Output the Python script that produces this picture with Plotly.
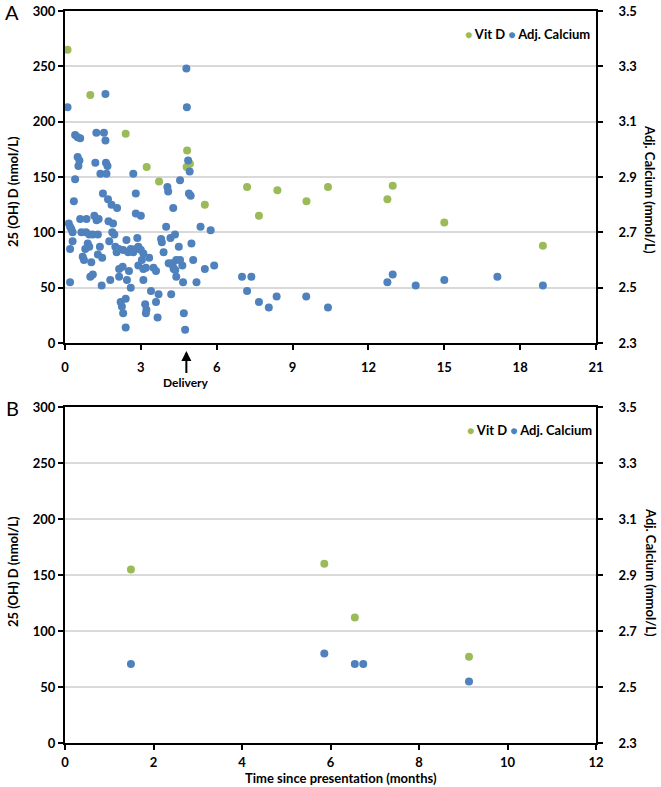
import plotly.graph_objects as go

# ---------------- Panel A data ----------------
a_vitd_month = [0.1, 1.0, 2.4, 3.23, 3.72, 4.83, 4.81, 4.94, 5.53, 7.2, 7.67, 8.4, 9.55,
                10.4, 12.75, 12.96, 15.0, 18.9]
a_vitd_value = [265, 224, 189, 159, 146, 174, 159, 162, 125, 141, 115, 138, 128,
                141, 130, 142, 109, 88]

a_ca_month = [0.1, 0.15, 0.2, 0.25, 0.3, 0.2, 0.2, 0.3, 0.35, 0.4, 0.4, 0.5, 0.6, 0.5, 0.57,
              0.53, 0.6, 0.85, 0.65, 0.7, 0.75, 0.83, 0.96, 1.1, 1.3, 0.9, 0.96, 0.8, 1.04,
              1.0, 1.1, 1.24, 1.2, 1.4, 1.64, 1.6, 1.54, 1.6, 1.62, 1.68, 1.5, 1.7, 1.84,
              2.06, 1.16, 1.25, 1.33, 1.72, 1.9, 1.87, 1.95, 1.75, 1.38, 1.3, 1.47, 1.45,
              1.79, 1.99, 2.04, 2.13, 2.3, 2.5, 2.6, 2.7, 2.8, 2.9, 3.0, 3.1, 2.43, 2.14,
              2.28, 2.14, 2.2, 2.25, 2.3, 2.4, 2.4, 2.45, 2.53, 2.6, 2.7, 2.8, 2.8, 3.0,
              2.86, 2.9, 3.1, 3.2, 3.04, 3.1, 3.17, 3.22, 3.2, 3.33, 3.4, 3.5, 3.6, 3.6,
              3.66, 3.7, 3.8, 3.83, 3.9, 4.0, 4.05, 4.08, 4.1, 4.2, 4.17, 4.35, 4.28, 4.26,
              4.3, 4.4, 4.4, 4.5, 4.55, 4.55, 4.64, 4.67, 4.7, 4.75, 4.8, 4.82, 4.87, 4.93,
              4.9, 4.97, 5.0, 5.07, 5.2, 5.36, 5.53, 5.76, 5.9, 7.0, 7.37, 7.2, 7.67, 8.06,
              8.37, 9.54, 10.4, 12.75, 12.96, 13.87, 15.0, 17.1, 18.9, 4.22, 4.36]
a_ca_value = [3.152, 2.732, 2.72, 2.712, 2.70, 2.64, 2.52, 2.668, 2.812, 2.892, 3.052, 3.044,
              3.04, 2.972, 2.96, 2.94, 2.748, 2.748, 2.70, 2.612, 2.60, 2.70, 2.692, 2.692,
              2.692, 2.66, 2.648, 2.64, 2.592, 2.54, 2.548, 3.06, 2.952, 2.912, 2.912, 3.20,
              3.06, 3.032, 2.952, 2.94, 2.84, 2.82, 2.80, 2.788, 2.76, 2.744, 2.748, 2.74,
              2.732, 2.70, 2.692, 2.668, 2.648, 2.62, 2.608, 2.508, 2.528, 2.648, 2.628,
              2.64, 2.636, 2.628, 2.64, 2.628, 2.64, 2.648, 2.636, 2.624, 2.672, 2.568,
              2.576, 2.54, 2.448, 2.432, 2.408, 2.46, 2.356, 2.528, 2.56, 2.50, 2.912, 2.84,
              2.768, 2.76, 2.68, 2.58, 2.568, 2.572, 2.60, 2.528, 2.44, 2.42, 2.408, 2.608,
              2.488, 2.572, 2.56, 2.448, 2.392, 2.476, 2.676, 2.664, 2.628, 2.72, 2.864,
              2.848, 2.588, 2.476, 2.68, 2.692, 2.788, 2.58, 2.568, 2.60, 2.54, 2.648, 2.888,
              2.60, 2.58, 2.52, 2.408, 2.348, 3.292, 3.152, 2.96, 2.92, 2.84, 2.832, 2.66,
              2.60, 2.52, 2.72, 2.568, 2.708, 2.58, 2.54, 2.54, 2.488, 2.448, 2.428, 2.468,
              2.468, 2.428, 2.52, 2.548, 2.508, 2.528, 2.54, 2.508, 2.588, 2.564]

# ---------------- Panel B data ----------------
b_vitd_month = [1.49, 5.86, 6.55, 9.13]
b_vitd_value = [155, 160, 112, 77]
b_ca_month = [1.49, 5.86, 6.55, 6.74, 9.13]
b_ca_value = [2.582, 2.62, 2.582, 2.582, 2.52]

x_ticks_a = [0, 3, 6, 9, 12, 15, 18, 21]
x_ticks_b = [0, 2, 4, 6, 8, 10, 12]
vitd_ticks = [0, 50, 100, 150, 200, 250, 300]
ca_ticks = [2.3, 2.5, 2.7, 2.9, 3.1, 3.3, 3.5]

GREEN = "#9BBB59"
BLUE = "#4F81BD"
FONT = "Lato"
GRID = "#D9D9D9"

fig = go.Figure()
mk = dict(size=8)
fig.add_trace(go.Scatter(x=a_vitd_month, y=a_vitd_value, mode="markers", name="Vit D",
                         marker=dict(color=GREEN, **mk), xaxis="x", yaxis="y",
                         cliponaxis=False, showlegend=False))
fig.add_trace(go.Scatter(x=a_ca_month, y=a_ca_value, mode="markers", name="Adj. Calcium",
                         marker=dict(color=BLUE, **mk), xaxis="x", yaxis="y2",
                         cliponaxis=False, showlegend=False))
fig.add_trace(go.Scatter(x=b_vitd_month, y=b_vitd_value, mode="markers", name="Vit D",
                         marker=dict(color=GREEN, **mk), xaxis="x2", yaxis="y3",
                         cliponaxis=False, showlegend=False))
fig.add_trace(go.Scatter(x=b_ca_month, y=b_ca_value, mode="markers", name="Adj. Calcium",
                         marker=dict(color=BLUE, **mk), xaxis="x2", yaxis="y4",
                         cliponaxis=False, showlegend=False))

tf = dict(family=FONT, size=13, color="black", weight="bold")
axcommon = dict(showline=True, linecolor="black", linewidth=2, ticks="outside",
                ticklen=5, tickwidth=1.5, tickcolor="black", zeroline=False,
                tickfont=tf, fixedrange=True, automargin=False)

dom_a = [0.5464, 1.0]
dom_b = [0.0, 0.459]

fig.update_layout(
    width=661, height=787,
    autosize=False,
    margin=dict(l=65, r=65, t=11, b=44),
    paper_bgcolor="white", plot_bgcolor="white",
    showlegend=False,
    xaxis=dict(domain=[0, 1], anchor="y", range=[0, 21], tickvals=x_ticks_a,
               showgrid=False, mirror=True, ticklabelstandoff=6, **axcommon),
    yaxis=dict(domain=dom_a, anchor="x", range=[0, 300], tickvals=vitd_ticks,
               showgrid=True, gridcolor=GRID, gridwidth=1.5, ticklabelstandoff=0, **axcommon),
    yaxis2=dict(overlaying="y", side="right", anchor="x", range=[2.3, 3.5],
                tickvals=ca_ticks, tickformat=".1f", showgrid=False,
                ticklabelstandoff=13, **axcommon),
    xaxis2=dict(domain=[0, 1], anchor="y3", range=[0, 12], tickvals=x_ticks_b,
                showgrid=False, mirror=True, ticklabelstandoff=1, **axcommon),
    yaxis3=dict(domain=dom_b, anchor="x2", range=[0, 300], tickvals=vitd_ticks,
                showgrid=True, gridcolor=GRID, gridwidth=1.5, ticklabelstandoff=0, **axcommon),
    yaxis4=dict(overlaying="y3", side="right", anchor="x2", range=[2.3, 3.5],
                tickvals=ca_ticks, tickformat=".1f", showgrid=False,
                ticklabelstandoff=13, **axcommon),
)

title_font = dict(family=FONT, size=13, color="black", weight="bold")
legend_text = ("<span style='color:%s;font-size:12px'>●</span> Vit D "
               "<span style='color:%s;font-size:12px'>●</span> Adj. Calcium") % (GREEN, BLUE)

annotations = [
    # panel letters
    dict(text="A", xref="paper", yref="paper", x=0, y=1, xshift=-53, yshift=-1,
         xanchor="center", yanchor="middle", showarrow=False,
         font=dict(family=FONT, size=20, color="black")),
    dict(text="B", xref="paper", yref="paper", x=0, y=dom_b[1], xshift=-53, yshift=-1,
         xanchor="center", yanchor="middle", showarrow=False,
         font=dict(family=FONT, size=20, color="black")),
    # left titles
    dict(text="25 (OH) D (nmol/L)", xref="paper", yref="paper", x=0, y=0.7527,
         xshift=-52, textangle=-90, xanchor="center", yanchor="middle",
         showarrow=False, font=title_font),
    dict(text="25 (OH) D (nmol/L)", xref="paper", yref="paper", x=0, y=0.2336,
         xshift=-52, textangle=-90, xanchor="center", yanchor="middle",
         showarrow=False, font=title_font),
    # right titles
    dict(text="Adj. Calcium (mmol/L)", xref="paper", yref="paper", x=1, y=0.7568,
         xshift=54, textangle=90, xanchor="center", yanchor="middle",
         showarrow=False, font=title_font),
    dict(text="Adj. Calcium (mmol/L)", xref="paper", yref="paper", x=1, y=0.2336,
         xshift=55, textangle=90, xanchor="center", yanchor="middle",
         showarrow=False, font=title_font),
    # x title of panel B
    dict(text="Time since presentation (months)", xref="paper", yref="paper",
         x=0.5, y=0, xshift=10, yshift=-35, xanchor="center", yanchor="middle",
         showarrow=False, font=dict(family=FONT, size=13, color="black", weight="bold")),
    # legends
    dict(text=legend_text, xref="paper", yref="paper", x=1, y=0.9686, xshift=-4,
         xanchor="right", yanchor="middle", showarrow=False, font=title_font),
    dict(text=legend_text, xref="paper", yref="paper", x=1, y=0.4276, xshift=-2,
         xanchor="right", yanchor="middle", showarrow=False, font=title_font),
    # delivery arrow
    dict(text="Delivery", xref="x", yref="paper", x=4.8, y=0.5355,
         ax=0, ay=31, axref="pixel", ayref="pixel", showarrow=True,
         arrowhead=2, arrowsize=1, arrowwidth=2, arrowcolor="black",
         font=dict(family=FONT, size=12, color="black", weight="bold")),
]
fig.update_layout(annotations=annotations)

# remove the default 8px page margin so the figure fills the window exactly
fig.write_html("out.html", config={"displayModeBar": False},
               post_script="document.body.style.margin='0';")
